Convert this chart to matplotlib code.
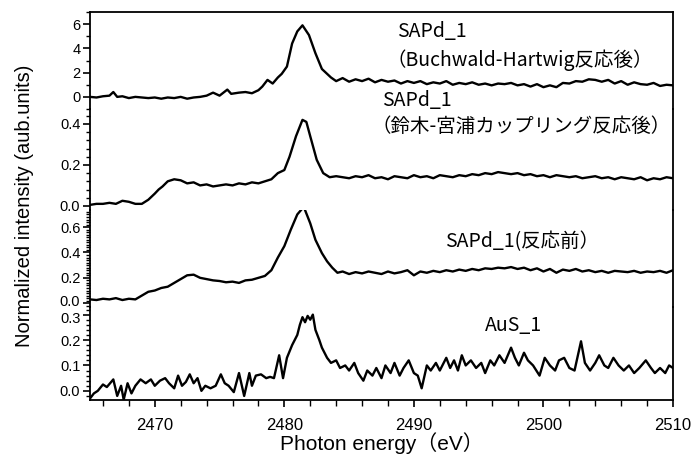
import matplotlib
matplotlib.use("Agg")
import matplotlib.pyplot as plt
from matplotlib.ticker import MultipleLocator, FormatStrFormatter
from matplotlib.transforms import ScaledTranslation

plt.rcParams['font.family'] = ['Liberation Sans', 'DejaVu Sans']
JP = ['Noto Sans CJK JP', 'DejaVu Sans']

# SAPd_1 (Buchwald-Hartwig) -- top panel
e_bh = [2465.0, 2465.5, 2466.0, 2466.5, 2466.8, 2467.1, 2467.5, 2468.0, 2468.5, 2469.0,
        2469.5, 2470.0, 2470.5, 2471.0, 2471.5, 2472.0, 2472.5, 2473.0, 2473.5, 2474.0,
        2474.5, 2475.0, 2475.6, 2475.9, 2476.5, 2477.0, 2477.5, 2478.0, 2478.3, 2478.7,
        2479.1, 2479.5, 2479.8, 2480.2, 2480.6, 2481.0, 2481.4, 2481.9, 2482.4, 2482.9,
        2483.3, 2483.6, 2484.0, 2484.5, 2485.0, 2485.5, 2486.0, 2486.5, 2487.0, 2487.5,
        2488.0, 2488.5, 2489.0, 2489.5, 2490.0, 2490.5, 2491.0, 2491.5, 2492.0, 2492.5,
        2493.0, 2493.5, 2494.0, 2494.5, 2495.0, 2495.5, 2496.0, 2496.5, 2497.0, 2497.5,
        2498.0, 2498.5, 2499.0, 2499.5, 2500.0, 2500.5, 2501.0, 2501.5, 2502.0, 2502.5,
        2503.0, 2503.5, 2504.0, 2504.5, 2505.0, 2505.5, 2506.0, 2506.5, 2507.0, 2507.5,
        2508.0, 2508.5, 2509.0, 2509.5, 2510.0]
i_bh = [0.0, -0.05, 0.05, 0.1, 0.4, 0.0, 0.05, -0.1, 0.0, -0.05,
        -0.1, -0.05, -0.15, -0.05, -0.1, 0.0, -0.15, -0.05, 0.0, 0.1,
        0.35, 0.1, 0.6, 0.25, 0.35, 0.4, 0.3, 0.55, 0.85, 1.4,
        1.1, 1.6, 1.9, 2.5, 4.4, 5.4, 5.9, 5.1, 3.6, 2.3,
        1.9, 1.6, 1.3, 1.55, 1.25, 1.45, 1.3, 1.5, 1.2, 1.4,
        1.25, 1.35, 1.1, 1.3, 1.15, 1.3, 1.05, 1.2, 1.1, 1.3,
        1.0, 1.15, 1.05, 1.2, 1.0, 1.1, 0.95, 1.1, 1.05, 1.15,
        0.95, 1.05, 0.85, 1.05, 0.8, 0.95, 0.8, 1.15, 1.1, 1.3,
        1.25, 1.45, 1.4, 1.25, 1.4, 1.1, 1.3, 1.0, 1.2, 1.05,
        1.0, 1.15, 0.9, 1.0, 0.95]

# SAPd_1 (Suzuki-Miyaura)
e_sm = [2465.0, 2465.5, 2466.0, 2466.5, 2467.0, 2467.5, 2468.0, 2468.5, 2469.0, 2469.5,
        2470.0, 2470.3, 2470.6, 2471.0, 2471.5, 2472.0, 2472.5, 2473.0, 2473.5, 2474.0,
        2474.5, 2475.0, 2475.5, 2476.0, 2476.5, 2477.0, 2477.5, 2478.0, 2478.5, 2479.0,
        2479.5, 2480.0, 2480.4, 2480.9, 2481.4, 2481.7, 2482.0, 2482.5, 2483.0, 2483.5,
        2484.0, 2484.5, 2485.0, 2485.5, 2486.0, 2486.5, 2487.0, 2487.5, 2488.0, 2488.5,
        2489.0, 2489.5, 2490.0, 2490.5, 2491.0, 2491.5, 2492.0, 2492.5, 2493.0, 2493.5,
        2494.0, 2494.5, 2495.0, 2495.5, 2496.0, 2496.5, 2497.0, 2497.5, 2498.0, 2498.5,
        2499.0, 2499.5, 2500.0, 2500.5, 2501.0, 2501.5, 2502.0, 2502.5, 2503.0, 2503.5,
        2504.0, 2504.5, 2505.0, 2505.5, 2506.0, 2506.5, 2507.0, 2507.5, 2508.0, 2508.5,
        2509.0, 2509.5, 2510.0]
i_sm = [0.005, 0.01, 0.01, 0.015, 0.01, 0.025, 0.02, 0.01, 0.01, 0.03,
        0.06, 0.08, 0.095, 0.12, 0.13, 0.125, 0.11, 0.115, 0.1, 0.105,
        0.095, 0.1, 0.105, 0.1, 0.11, 0.105, 0.115, 0.11, 0.12, 0.13,
        0.16, 0.175, 0.24, 0.34, 0.42, 0.41, 0.34, 0.225, 0.16, 0.14,
        0.145, 0.14, 0.135, 0.145, 0.14, 0.15, 0.135, 0.14, 0.13, 0.145,
        0.14, 0.135, 0.15, 0.14, 0.145, 0.135, 0.15, 0.145, 0.14, 0.15,
        0.145, 0.155, 0.15, 0.16, 0.155, 0.165, 0.16, 0.155, 0.16, 0.15,
        0.155, 0.145, 0.15, 0.14, 0.15, 0.145, 0.14, 0.145, 0.135, 0.14,
        0.145, 0.135, 0.14, 0.13, 0.14, 0.135, 0.13, 0.14, 0.125, 0.135,
        0.13, 0.14, 0.135]

# SAPd_1 (before reaction)
e_pre = [2465.0, 2465.5, 2466.0, 2466.5, 2467.0, 2467.5, 2468.0, 2468.5, 2469.0, 2469.5,
         2470.0, 2470.5, 2471.0, 2471.5, 2472.0, 2472.5, 2473.0, 2473.5, 2474.0, 2474.5,
         2475.0, 2475.5, 2476.0, 2476.5, 2477.0, 2477.5, 2478.0, 2478.5, 2479.0, 2479.5,
         2480.0, 2480.5, 2481.0, 2481.5, 2482.0, 2482.4, 2482.9, 2483.3, 2483.7, 2484.1,
         2484.5, 2485.0, 2485.5, 2486.0, 2486.5, 2487.0, 2487.5, 2488.0, 2488.5, 2489.0,
         2489.5, 2490.0, 2490.5, 2491.0, 2491.5, 2492.0, 2492.5, 2493.0, 2493.5, 2494.0,
         2494.5, 2495.0, 2495.5, 2496.0, 2496.5, 2497.0, 2497.5, 2498.0, 2498.5, 2499.0,
         2499.5, 2500.0, 2500.5, 2501.0, 2501.5, 2502.0, 2502.5, 2503.0, 2503.5, 2504.0,
         2504.5, 2505.0, 2505.5, 2506.0, 2506.5, 2507.0, 2507.5, 2508.0, 2508.5, 2509.0,
         2509.5, 2510.0]
i_pre = [0.03, 0.025, 0.035, 0.03, 0.04, 0.025, 0.035, 0.03, 0.06, 0.09,
         0.1, 0.12, 0.13, 0.16, 0.19, 0.22, 0.225, 0.2, 0.19, 0.18,
         0.175, 0.165, 0.17, 0.16, 0.18, 0.185, 0.2, 0.215, 0.26, 0.36,
         0.45, 0.58, 0.7, 0.76, 0.63, 0.5, 0.395, 0.33, 0.28, 0.24,
         0.25, 0.23, 0.245, 0.235, 0.25, 0.24, 0.23, 0.25, 0.235, 0.245,
         0.26, 0.22, 0.25, 0.24, 0.255, 0.245, 0.26, 0.25, 0.265, 0.255,
         0.27, 0.26, 0.275, 0.27, 0.28, 0.275, 0.285, 0.27, 0.28, 0.26,
         0.275, 0.25, 0.27, 0.24, 0.265, 0.255, 0.27, 0.25, 0.26, 0.245,
         0.255, 0.24, 0.255, 0.25, 0.245, 0.255, 0.24, 0.25, 0.245, 0.255,
         0.24, 0.26]

# AuS_1
e_aus = [2465.0, 2465.3, 2465.6, 2466.0, 2466.3, 2466.8, 2467.1, 2467.4, 2467.6, 2467.9,
         2468.2, 2468.5, 2468.9, 2469.3, 2469.7, 2470.0, 2470.4, 2470.8, 2471.1, 2471.5,
         2471.8, 2472.1, 2472.4, 2472.7, 2473.0, 2473.3, 2473.6, 2473.9, 2474.3, 2474.7,
         2475.1, 2475.4, 2475.7, 2476.1, 2476.5, 2476.9, 2477.3, 2477.5, 2477.8, 2478.2,
         2478.6, 2478.9, 2479.2, 2479.6, 2479.9, 2480.2, 2480.6, 2481.0, 2481.2, 2481.4,
         2481.6, 2481.8, 2482.0, 2482.2, 2482.4, 2482.7, 2482.9, 2483.3, 2483.6, 2484.0,
         2484.3, 2484.7, 2485.0, 2485.4, 2485.7, 2486.1, 2486.4, 2486.8, 2487.1, 2487.5,
         2487.8, 2488.2, 2488.5, 2488.9, 2489.2, 2489.6, 2490.0, 2490.3, 2490.6, 2491.0,
         2491.3, 2491.7, 2492.0, 2492.5, 2492.8, 2493.1, 2493.4, 2493.7, 2494.0, 2494.4,
         2494.8, 2495.2, 2495.5, 2495.9, 2496.2, 2496.6, 2497.0, 2497.5, 2497.8, 2498.1,
         2498.5, 2498.8, 2499.2, 2499.7, 2500.1, 2500.5, 2500.9, 2501.2, 2501.6, 2502.0,
         2502.4, 2502.9, 2503.2, 2503.6, 2504.0, 2504.3, 2504.7, 2505.0, 2505.4, 2505.8,
         2506.2, 2506.6, 2507.0, 2507.4, 2507.9, 2508.3, 2508.6, 2509.0, 2509.4, 2509.7,
         2510.0]
i_aus = [-0.03, -0.01, 0.0, 0.025, 0.015, 0.045, -0.02, 0.02, -0.035, 0.03,
         -0.01, 0.02, 0.045, 0.03, 0.045, 0.02, 0.04, 0.05, 0.03, 0.01,
         0.06, 0.02, 0.035, 0.065, 0.03, 0.05, 0.0, 0.02, 0.01, 0.02,
         0.065, 0.03, 0.02, -0.005, 0.07, -0.02, 0.07, 0.02, 0.06, 0.065,
         0.05, 0.055, 0.05, 0.14, 0.05, 0.13, 0.18, 0.22, 0.26, 0.29,
         0.27, 0.295, 0.28, 0.3, 0.24, 0.2, 0.17, 0.13, 0.11, 0.12,
         0.09, 0.1, 0.08, 0.11, 0.07, 0.04, 0.08, 0.06, 0.09, 0.05,
         0.1, 0.07, 0.11, 0.06, 0.09, 0.12, 0.07, 0.06, 0.01, 0.1,
         0.08, 0.11, 0.08, 0.13, 0.09, 0.12, 0.08, 0.14, 0.1, 0.12,
         0.09, 0.11, 0.07, 0.12, 0.1, 0.14, 0.11, 0.17, 0.13, 0.1,
         0.15, 0.12, 0.1, 0.06, 0.13, 0.1, 0.08, 0.12, 0.13, 0.09,
         0.08, 0.195, 0.11, 0.08, 0.11, 0.14, 0.1, 0.09, 0.13, 0.1,
         0.08, 0.1, 0.07, 0.09, 0.12, 0.09, 0.07, 0.09, 0.07, 0.1,
         0.09]

labels = [["SAPd_1", "（Buchwald-Hartwig反応後）"],
          ["SAPd_1", "（鈴木-宮浦カップリング反応後）"],
          ["SAPd_1(反応前）"],
          ["AuS_1"]]

W, H = 692, 458
fig = plt.figure(figsize=(W / 100, H / 100), dpi=100)

# pixel rows of each panel (top, bottom)
rows = [(12, 109), (109, 210), (210, 307), (307, 400)]
ylims = [(-1.0, 7.0), (-0.02, 0.473), (-0.03, 0.735), (-0.036, 0.33)]
majors = [2, 0.2, 0.2, 0.1]
minors = [1, 0.04, 0.02, 0.02]
fmts = ['%d', '%.1f', '%.1f', '%.1f']
yticks = [[0, 2, 4, 6], [0.0, 0.2, 0.4], [0.0, 0.2, 0.4, 0.6], [0.0, 0.1, 0.2, 0.3]]
series = [(e_bh, i_bh), (e_sm, i_sm), (e_pre, i_pre), (e_aus, i_aus)]

axes = []
for k, (top, bot) in enumerate(rows):
    ax = fig.add_axes([90 / W, 1 - bot / H, (673 - 90) / W, (bot - top) / H])
    x, y = series[k]
    ax.plot(x, y, color='black', lw=1.7)
    ax.set_xlim(2465, 2510)
    ax.set_ylim(*ylims[k])
    ax.set_yticks(yticks[k])
    ax.yaxis.set_minor_locator(MultipleLocator(minors[k]))
    ax.yaxis.set_major_formatter(FormatStrFormatter(fmts[k]))
    ax.tick_params(axis='y', which='major', length=5, width=1.2, labelsize=10.5, pad=2)
    ax.tick_params(axis='y', which='minor', length=3, width=1.0)
    for s in ax.spines.values():
        s.set_linewidth(1.3)
    ax.spines['top'].set_visible(k == 0)
    ax.spines['bottom'].set_visible(k == 3)
    ax.patch.set_alpha(0)
    if k < 3:
        ax.tick_params(axis='x', which='both', bottom=False, labelbottom=False)
    axes.append(ax)

# the "0.0" of panel 3 and "0.3" of panel 4 sit almost on top of each other
up = ScaledTranslation(0, 2.5 / 100, fig.dpi_scale_trans)
down = ScaledTranslation(0, -2.5 / 100, fig.dpi_scale_trans)
lab = axes[2].yaxis.get_major_ticks()[0].label1
lab.set_transform(lab.get_transform() + up)
lab = axes[3].yaxis.get_major_ticks()[-1].label1
lab.set_transform(lab.get_transform() + down)

axb = axes[3]
axb.xaxis.set_major_locator(MultipleLocator(10))
axb.xaxis.set_minor_locator(MultipleLocator(2))
axb.tick_params(axis='x', which='major', length=5, width=1.2, labelsize=12, pad=8)
axb.tick_params(axis='x', which='minor', length=4, width=1.0)

# annotations (left edge x, centre y in pixels)
txt_pos = [[(397, 31), (386, 60)], [(382, 100), (371, 126)], [(445, 242)], [(485, 325)]]
for lab, pos in zip(labels, txt_pos):
    for s, (px, py) in zip(lab, pos):
        fig.text(px / W, 1 - py / H, s, family=JP, fontsize=14, ha='left', va='center')

fig.text(25 / W, 1 - 206 / H, "Normalized intensity (aub.units)", rotation=90,
         ha='center', va='center', fontsize=14.5)
fig.text(382 / W, 1 - 443 / H, "Photon energy（eV）", family=['Liberation Sans', 'Noto Sans CJK JP'],
         ha='center', va='center', fontsize=15)

fig.savefig("out.png", dpi=100)
